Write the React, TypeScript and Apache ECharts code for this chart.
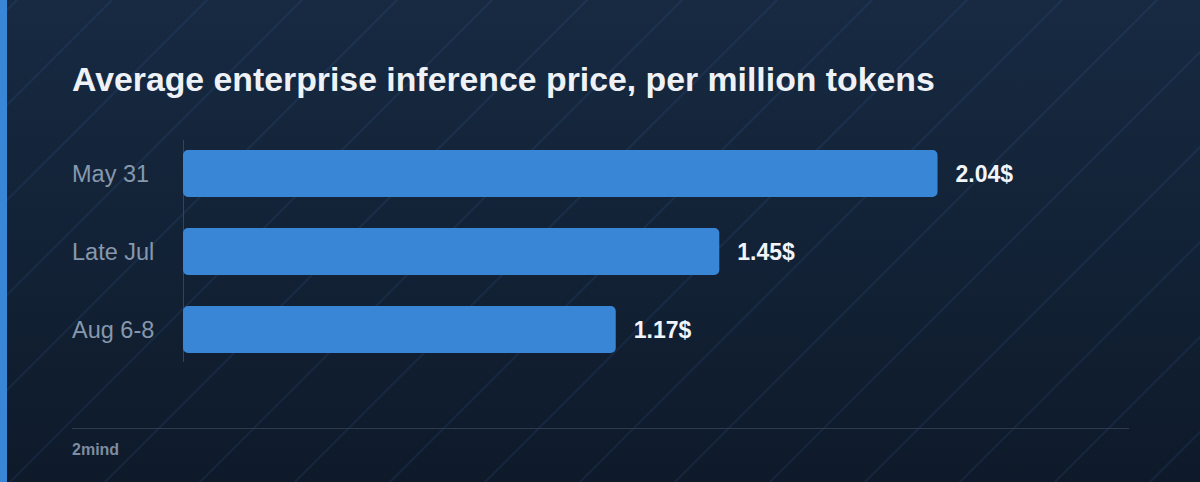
import React, { useEffect, useRef } from 'react';
import * as echarts from 'echarts';

const categories = ['May 31', 'Late Jul', 'Aug 6-8'];
const prices = [2.04, 1.45, 1.17];
const titleText = 'Average enterprise inference price, per million tokens';
const footerText = '2mind';

const FONT = '"Liberation Sans", Arial, Helvetica, sans-serif';

const App: React.FC = () => {
  const chartRef = useRef<HTMLDivElement>(null);

  useEffect(() => {
    if (!chartRef.current) return;
    const chart = echarts.init(chartRef.current, null, { renderer: 'svg' });

    chart.setOption({
      animation: false,
      backgroundColor: 'transparent',
      textStyle: { fontFamily: FONT },
      grid: { left: 183, right: 72, top: 134.5, bottom: 113.5, containLabel: false },
      xAxis: {
        type: 'value',
        min: 0,
        max: 2.555,
        show: false,
      },
      yAxis: {
        type: 'category',
        data: categories,
        inverse: true,
        axisLine: { show: false },
        axisTick: { show: false },
        splitLine: { show: false },
        axisLabel: {
          align: 'left',
          margin: 111,
          color: '#8798ad',
          fontSize: 23.5,
          fontFamily: FONT,
        },
      },
      series: [
        {
          type: 'bar',
          data: prices,
          barCategoryGap: '40%',
          itemStyle: { color: '#3a86d6', borderRadius: 5 },
          label: {
            show: true,
            position: 'right',
            distance: 18,
            formatter: (p: any) => `${p.value.toFixed(2)}$`,
            color: '#f1f5f9',
            fontSize: 23,
            fontWeight: 'bold',
            fontFamily: FONT,
          },
        },
      ],
      graphic: [
        {
          type: 'text',
          left: 72,
          top: 62,
          style: {
            text: titleText,
            fill: '#eef2f7',
            font: `bold 33.8px ${FONT}`,
          },
        },
        {
          type: 'line',
          shape: { x1: 183.5, y1: 140, x2: 183.5, y2: 362 },
          style: { stroke: '#34455a', lineWidth: 1 },
        },
        {
          type: 'line',
          shape: { x1: 72, y1: 428.5, x2: 1129, y2: 428.5 },
          style: { stroke: '#2c3b4e', lineWidth: 1 },
        },
        {
          type: 'text',
          left: 72,
          top: 441,
          style: {
            text: footerText,
            fill: '#7d8ca0',
            font: `bold 16px ${FONT}`,
          },
        },
      ],
    });

    return () => {
      chart.dispose();
    };
  }, []);

  return (
    <div
      style={{
        position: 'fixed',
        left: 0,
        top: 0,
        width: 1200,
        height: 482,
        background:
          'repeating-linear-gradient(135deg, transparent 0px, transparent 11px, rgba(70,130,210,0.10) 11px, rgba(70,130,210,0.10) 13px, transparent 13px, transparent 67.18px), linear-gradient(180deg, #172a42 0%, #0e1a2a 100%)',
      }}
    >
      <div style={{ position: 'absolute', left: 0, top: 0, width: 7, height: 482, background: '#3a86d6' }} />
      <div ref={chartRef} style={{ position: 'absolute', left: 0, top: 0, width: 1200, height: 482 }} />
    </div>
  );
};

export default App;
